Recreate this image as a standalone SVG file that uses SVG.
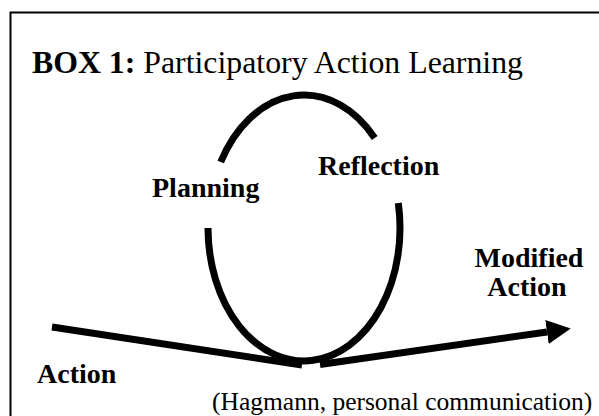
<svg xmlns="http://www.w3.org/2000/svg" width="599" height="416" viewBox="0 0 599 416">
<style>
  .lbl { font-family: "Liberation Serif", "Times New Roman", serif; font-weight: bold; font-size: 28px; fill: #000; }
  .reg { font-family: "Liberation Serif", "Times New Roman", serif; fill: #000; }
  .thick { fill: none; stroke: #000; stroke-width: 7; stroke-linecap: butt; }
</style>
<defs>
  <marker id="arrow" markerUnits="userSpaceOnUse" markerWidth="24" markerHeight="24" viewBox="0 0 22 22" refX="0" refY="11" orient="auto">
    <path d="M0,0 L22,11 L0,22 Z" fill="#000"/>
  </marker>
</defs>
<rect width="599" height="416" fill="#fff"/>
<g id="frame">
  <path d="M10.5,416 L10.5,12.5 L599,12.5" fill="none" stroke="#000" stroke-width="2"/>
</g>
<g id="title">
  <text class="reg" x="32" y="73" font-size="31.8"><tspan font-weight="bold">BOX 1:</tspan> Participatory Action Learning</text>
</g>
<g id="cycle">
  <path class="thick" d="M220.7,162 A96,133 0 0 1 374.7,138"/>
  <path class="thick" d="M398.3,203 A96,133 0 1 1 208,228"/>
</g>
<g id="planning"><text class="lbl" x="152" y="197">Planning</text></g>
<g id="reflection"><text class="lbl" x="318" y="175">Reflection</text></g>
<g id="action"><text class="lbl" x="37" y="383">Action</text></g>
<g id="modified-action">
  <text class="lbl" x="529" y="267" text-anchor="middle" font-size="27">Modified</text>
  <text class="lbl" x="527" y="296" text-anchor="middle" font-size="27">Action</text>
</g>
<g id="connectors">
  <path class="thick" d="M52,327 L302,365"/>
  <path class="thick" d="M320,364.5 L547,332" marker-end="url(#arrow)"/>
</g>
<g id="citation">
  <text class="reg" x="212" y="410" font-size="25.5">(Hagmann, personal communication)</text>
</g>
</svg>
